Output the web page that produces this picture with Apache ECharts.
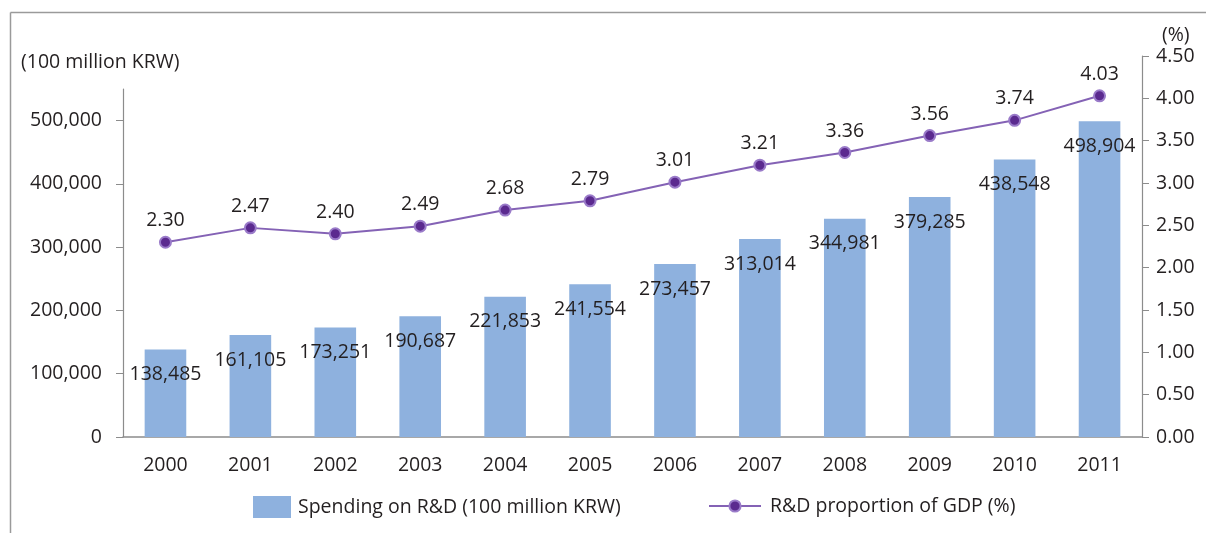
<!DOCTYPE html>
<html><head><meta charset="utf-8">
<script src="https://cdn.jsdelivr.net/npm/echarts@6/dist/echarts.min.js"></script>
<style>html,body{margin:0;padding:0;background:#fff}#c{width:1206px;height:533px}</style>
</head><body><div id="c"></div>
<script>
const years = ['2000','2001','2002','2003','2004','2005','2006','2007','2008','2009','2010','2011'];
const spending = [138485,161105,173251,190687,221853,241554,273457,313014,344981,379285,438548,498904];
const gdpShare = [2.30,2.47,2.40,2.49,2.68,2.79,3.01,3.21,3.36,3.56,3.74,4.03];
const leftTicks = [0,100000,200000,300000,400000,500000];
const barName = 'Spending on R&D (100 million KRW)';
const lineName = 'R&D proportion of GDP (%)';

const FONT = '"Open Sans", sans-serif';
const FS = 19.5;
const TXT = '#231f20';
const AX = '#8c8c8c';
const fmt = v => v.toLocaleString('en-US');

const chart = echarts.init(document.getElementById('c'), null, {renderer:'canvas'});
chart.setOption({
  animation:false,
  textStyle:{fontFamily:FONT,color:TXT},
  graphic:[
    {type:'line',shape:{x1:10.5,y1:12.5,x2:1206,y2:12.5},style:{stroke:'#9a9a9a',lineWidth:1.5}},
    {type:'line',shape:{x1:10.5,y1:12.5,x2:10.5,y2:533},style:{stroke:'#9a9a9a',lineWidth:1.5}}
  ],
  title:[
    {text:'(100 million KRW)',left:16,top:47,textStyle:{fontFamily:FONT,fontSize:FS,fontWeight:'normal',color:TXT}},
    {text:'(%)',left:1157,top:20,textStyle:{fontFamily:FONT,fontSize:FS,fontWeight:'normal',color:TXT}}
  ],
  legend:[
    {data:[{name:barName,icon:'rect'}],left:248,top:491,itemWidth:38,itemHeight:22,
     textStyle:{fontFamily:FONT,fontSize:FS,color:TXT,padding:[0,0,0,2]}},
    {data:[lineName],left:703,top:491,itemWidth:52,itemHeight:14,
     textStyle:{fontFamily:FONT,fontSize:FS,color:TXT,padding:[0,0,0,4]}}
  ],
  grid:[
    {left:123,right:64,top:89,bottom:96},
    {left:123,right:64,top:56,bottom:96}
  ],
  xAxis:[
    {type:'category',data:years,gridIndex:0,
     axisLine:{lineStyle:{color:AX,width:1.5}},axisTick:{show:false},
     axisLabel:{fontFamily:FONT,fontSize:FS,color:TXT,margin:18}},
    {type:'category',data:years,gridIndex:1,show:false}
  ],
  yAxis:[
    {type:'value',gridIndex:0,min:0,max:550000,interval:100000,
     splitLine:{show:false},
     axisLine:{show:true,lineStyle:{color:AX,width:1.2}},
     axisTick:{show:true,length:7,customValues:leftTicks,lineStyle:{color:AX}},
     axisLabel:{fontFamily:FONT,fontSize:FS,color:TXT,margin:21,customValues:leftTicks,formatter:v=>fmt(v)}},
    {type:'value',gridIndex:1,position:'right',min:0,max:4.5,interval:0.5,
     splitLine:{show:false},
     axisLine:{show:true,lineStyle:{color:AX,width:1.2}},
     axisTick:{show:true,length:7,lineStyle:{color:AX}},
     axisLabel:{fontFamily:FONT,fontSize:FS,color:TXT,margin:14,formatter:v=>v.toFixed(2)}}
  ],
  series:[
    {name:barName,type:'bar',xAxisIndex:0,yAxisIndex:0,data:spending,barWidth:'49%',
     itemStyle:{color:'#8eb1de'},
     label:{show:true,position:'insideTop',distance:15,fontFamily:FONT,fontSize:FS,color:TXT,formatter:p=>fmt(p.value)}},
    {name:lineName,type:'line',xAxisIndex:1,yAxisIndex:1,data:gdpShare,
     symbol:'circle',symbolSize:11,
     lineStyle:{color:'#8462b5',width:2},
     itemStyle:{color:'#5b2a8f',borderColor:'#9a7bc9',borderWidth:2},
     label:{show:true,position:'top',distance:5,fontFamily:FONT,fontSize:FS,color:TXT,formatter:p=>p.value.toFixed(2)}}
  ]
});
</script></body></html>
